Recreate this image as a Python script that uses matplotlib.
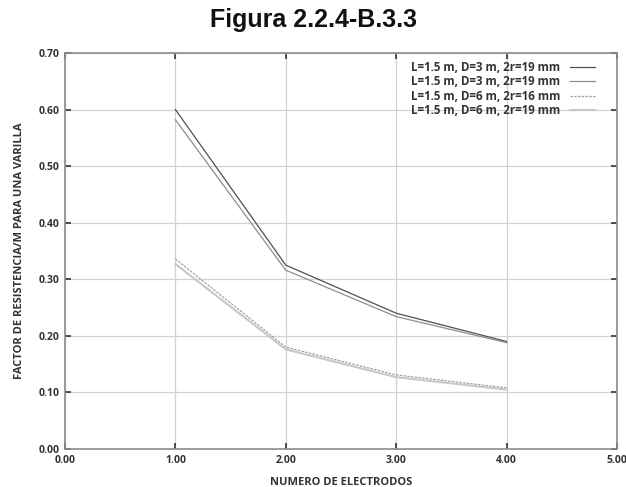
import matplotlib
matplotlib.use("Agg")
import matplotlib.pyplot as plt

x = [1, 2, 3, 4]
s1 = [0.600, 0.325, 0.240, 0.190]
s2 = [0.582, 0.316, 0.234, 0.188]
s3 = [0.336, 0.180, 0.131, 0.108]
s4 = [0.327, 0.176, 0.127, 0.105]
labels = ["L=1.5 m, D=3 m, 2r=19 mm",
          "L=1.5 m, D=3 m, 2r=19 mm",
          "L=1.5 m, D=6 m, 2r=16 mm",
          "L=1.5 m, D=6 m, 2r=19 mm"]
xticks = [0, 1, 2, 3, 4, 5]
yticks = [0.0, 0.1, 0.2, 0.3, 0.4, 0.5, 0.6, 0.7]

fig = plt.figure(figsize=(6.26, 4.87), dpi=100)
ax = fig.add_axes([65/626, 1-449/487, (617-65)/626, (449-53)/487])

styles = [dict(color="#505050", lw=0.9),
          dict(color="#8e8e8e", lw=0.9),
          dict(color="#a0a0a0", lw=0.9, ls=(0, (2, 1))),
          dict(color="#c8c8c8", lw=1.5)]
for s, lab, st in zip([s1, s2, s3, s4], labels, styles):
    ax.plot(x, s, label=lab, **st)

ax.set_xlim(0, 5)
ax.set_ylim(0, 0.7)
ax.set_xticks(xticks)
ax.set_yticks(yticks)
ax.set_xticklabels([f"{v:.2f}" for v in xticks])
ax.set_yticklabels([f"{v:.2f}" for v in yticks])
ax.grid(True, color="#d2d2d2", lw=0.9)
ax.set_axisbelow(True)
for sp in ax.spines.values():
    sp.set_color("#8c8c8c")
    sp.set_linewidth(1.2)
ax.tick_params(direction="in", length=4, width=1.2, color="#333333",
               top=True, right=True, labelsize=7.5, pad=4)
for t in ax.get_xticklabels() + ax.get_yticklabels():
    t.set_fontweight("bold")
    t.set_family("Open Sans")
    t.set_color("#333333")

ax.set_xlabel("NUMERO DE ELECTRODOS", fontsize=8, fontweight="bold",
              family="Open Sans", color="#333333", labelpad=8)
ax.set_ylabel("FACTOR DE RESISTENCIA/M PARA UNA VARILLA", fontsize=8,
              fontweight="bold", family="Open Sans", color="#333333", labelpad=10)

leg = ax.legend(loc="upper right", frameon=False, markerfirst=False,
                prop=dict(family="Open Sans", weight="bold", size=8.3),
                handlelength=2.2, handletextpad=0.8, labelspacing=0.12,
                borderaxespad=0.3, bbox_to_anchor=(0.975, 1.0))
for t in leg.get_texts():
    t.set_color("#333333")

fig.text(0.5, 1-20/487, "Figura 2.2.4-B.3.3", ha="center", va="center",
         fontsize=18, fontweight="bold", family="Liberation Sans", color="#111111")

fig.savefig("out.png", dpi=100)
